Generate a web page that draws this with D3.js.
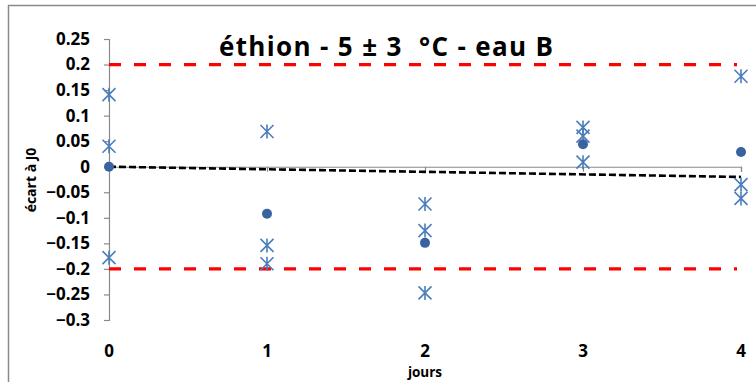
<!DOCTYPE html>
<html>
<head>
<meta charset="utf-8">
<script src="https://cdn.jsdelivr.net/npm/d3@7"></script>
<style>
  html, body { margin: 0; padding: 0; background: #fff; }
  svg { display: block; }
  text { font-family: "Open Sans", "Liberation Sans", sans-serif; font-weight: bold; fill: #000; }
</style>
</head>
<body>
<svg id="chart" width="756" height="382"></svg>
<script>
// Days of measurement
const days = [0, 1, 2, 3, 4];
// Mean deviation per day (filled circles)
const meanDeviation = [0, -0.092, -0.149, 0.044, 0.029];
// Individual replicate deviations per day (star markers)
const replicateDays = [0, 0, 0, 1, 1, 1, 2, 2, 2, 3, 3, 3, 4, 4, 4];
const replicateDeviation = [0.141, 0.040, -0.178, 0.069, -0.154, -0.190, -0.073, -0.125, -0.247, 0.077, 0.060, 0.009, 0.177, -0.035, -0.062];
// Linear trend of the means, evaluated at first and last day
const trendDays = [0, 4];
const trendValues = [0, -0.020];
// Acceptance limits
const limits = [0.2, -0.2];
// Axis ticks
const yTicks = [0.25, 0.2, 0.15, 0.1, 0.05, 0, -0.05, -0.1, -0.15, -0.2, -0.25, -0.3];
const xTicks = [0, 1, 2, 3, 4];

const titleText = "éthion - 5 ± 3  °C - eau B";
const xTitle = "jours";
const yTitle = "écart à J0";

const svg = d3.select("#chart");
const axisGrey = "#8a8a8a";

// Outer chart frame
svg.append("rect")
  .attr("x", 8.5).attr("y", 5.5)
  .attr("width", 800).attr("height", 400)
  .attr("fill", "none").attr("stroke", axisGrey).attr("stroke-width", 1.5);

const x = d3.scaleLinear().domain([0, 4]).range([109, 741]);
const y = d3.scaleLinear().domain([-0.3, 0.25]).range([320, 39]);

// Vertical axis with ticks on the left
const yAxis = d3.axisLeft(y).tickValues(yTicks).tickSize(5).tickPadding(14)
  .tickFormat(d => d3.format("")(+d.toFixed(2)));
const gy = svg.append("g").attr("transform", `translate(${x(0)},0)`).call(yAxis);
gy.select(".domain").attr("stroke", axisGrey).attr("stroke-width", 1.2);
gy.selectAll(".tick line").attr("stroke", axisGrey).attr("stroke-width", 1.2);
gy.selectAll(".tick text")
  .attr("font-family", "'Open Sans', 'Liberation Sans', sans-serif")
  .attr("font-weight", "bold").attr("font-size", 17).attr("fill", "#000");

// Horizontal axis through zero
const xAxis = d3.axisBottom(x).tickValues(xTicks).tickSize(5).tickSizeOuter(5).tickFormat("");
const gx = svg.append("g").attr("transform", `translate(0,${y(0)})`).call(xAxis);
gx.select(".domain").attr("stroke", axisGrey).attr("stroke-width", 1.2);
gx.selectAll(".tick line").attr("stroke", axisGrey).attr("stroke-width", 1.2);

// Day labels below the plot area
svg.append("g").selectAll("text").data(xTicks).join("text")
  .attr("x", d => x(d)).attr("y", 357)
  .attr("text-anchor", "middle").attr("font-size", 17)
  .text(d => d);

// Limit lines
svg.append("g").selectAll("line").data(limits).join("line")
  .attr("x1", x(0)).attr("x2", x(4) - 4)
  .attr("y1", d => y(d)).attr("y2", d => y(d))
  .attr("stroke", "#ff0000").attr("stroke-width", 3.2)
  .attr("stroke-dasharray", "12,13");

// Trend line
const trend = d3.line().x(d => x(d[0])).y(d => y(d[1]));
svg.append("path")
  .datum(trendDays.map((d, i) => [d, trendValues[i]]))
  .attr("d", trend)
  .attr("fill", "none").attr("stroke", "#000").attr("stroke-width", 2.6)
  .attr("stroke-dasharray", "7,3");

// Replicate star markers (X with vertical bar)
const starSize = 6.5;
const starPath = `M${-starSize},${-starSize}L${starSize},${starSize}M${-starSize},${starSize}L${starSize},${-starSize}M0,${-starSize - 0.5}L0,${starSize + 0.5}`;
svg.append("g").selectAll("path").data(replicateDeviation).join("path")
  .attr("transform", (d, i) => `translate(${x(replicateDays[i])},${y(d)})`)
  .attr("d", starPath)
  .attr("fill", "none").attr("stroke", "#4a7ebb").attr("stroke-width", 1.6);

// Mean markers
svg.append("g").selectAll("circle").data(meanDeviation).join("circle")
  .attr("cx", (d, i) => x(days[i])).attr("cy", d => y(d))
  .attr("r", 5).attr("fill", "#3a62a0");

// Titles
svg.append("text")
  .attr("x", 386).attr("y", 56)
  .attr("text-anchor", "middle").attr("font-size", 26)
  .attr("textLength", 334).attr("lengthAdjust", "spacing")
  .style("white-space", "pre").attr("xml:space", "preserve")
  .text(titleText);

svg.append("text")
  .attr("x", 425).attr("y", 377)
  .attr("text-anchor", "middle").attr("font-size", 13.5)
  .text(xTitle);

svg.append("text")
  .attr("transform", "translate(36,180) rotate(-90)")
  .attr("text-anchor", "middle").attr("font-size", 14)
  .text(yTitle);
</script>
</body>
</html>
